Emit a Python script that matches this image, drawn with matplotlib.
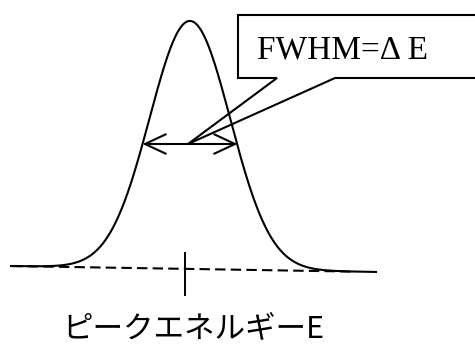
import matplotlib.pyplot as plt
import numpy as np
from matplotlib.patches import Polygon

# peak parameters (drawing units: x along energy, y in counts with baseline at 0)
peak_center = 190.0
peak_fwhm = 95.0
peak_height = 1.0
baseline_left = 0.008
baseline_right = -0.016
energy_range = [10.0, 377.0]
dashed_range = [12.0, 356.0]
tick_x = 185.0

label_fwhm = "FWHM=Δ E"
label_energy = "ピークエネルギーE"

# figure in pixel-ish units: 475 x 348
fig = plt.figure(figsize=(4.75, 3.48), dpi=100)
ax = fig.add_axes([0, 0, 1, 1])
px_base, px_peak = 268.0, 20.0
scale = (px_base - px_peak) / peak_height
ax.set_xlim(0, 475)
ax.set_ylim((px_base - 348) / scale, px_base / scale)
ax.axis("off")

def baseline(x):
    t = (x - energy_range[0]) / (energy_range[1] - energy_range[0])
    return baseline_left + t * (baseline_right - baseline_left)

sigma = peak_fwhm / (2 * np.sqrt(2 * np.log(2)))
x = np.linspace(energy_range[0], energy_range[1], 600)
y = baseline(x) + peak_height * np.exp(-0.5 * ((x - peak_center) / sigma) ** 2)
ax.plot(x, y, color="black", lw=1.5, solid_capstyle="butt")

# dashed baseline under the peak
xd = np.array(dashed_range)
ax.plot(xd, baseline(xd), color="black", lw=1.5, ls=(0, (5, 2.5)))

# peak position marker
ax.plot([tick_x, tick_x], [(px_base - 253) / scale, (px_base - 295) / scale],
        color="black", lw=1.4)

# FWHM double arrow at half maximum
half = peak_height / 2
x_lo, x_hi = peak_center - peak_fwhm / 2, peak_center + peak_fwhm / 2
ax.annotate("", xy=(x_lo, half), xytext=(x_hi, half),
            arrowprops=dict(arrowstyle="<->,head_length=1.5,head_width=0.7",
                            color="black", lw=1.5, shrinkA=0, shrinkB=0))

# callout box with pointer to the arrow
def to_data(px, py):
    return (px, (px_base - py) / scale)

tip = (peak_center - 2, half)
callout = [to_data(238, 15), to_data(480, 15), to_data(480, 78),
           to_data(335, 78), tip, to_data(277, 78), to_data(238, 78)]
ax.add_patch(Polygon(callout, closed=True, fill=True, facecolor="white",
                     edgecolor="black", lw=1.5, joinstyle="miter", clip_on=True))

ax.text(*to_data(257, 50), label_fwhm, family="Liberation Serif",
        fontsize=24, ha="left", va="center")

ax.text(*to_data(193, 329), label_energy,
        family=["Noto Sans CJK JP", "DejaVu Sans"], fontsize=22,
        ha="center", va="center")

fig.savefig("out.png", dpi=100)
